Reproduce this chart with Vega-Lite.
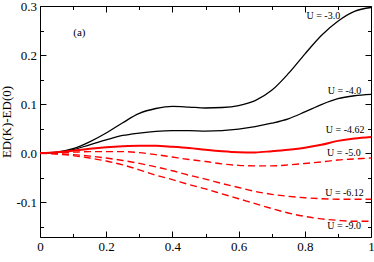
{
  "$schema": "https://vega.github.io/schema/vega-lite/v6.json",
  "width": 331,
  "height": 231,
  "autosize": {"type": "none"},
  "padding": {"left": 40, "top": 6, "right": 3, "bottom": 25},
  "background": "white",
  "config": {
    "view": {"stroke": null},
    "axis": {
      "domainColor": "#000000",
      "domainWidth": 1,
      "tickColor": "#000000",
      "tickWidth": 1,
      "grid": false,
      "labelFont": "Liberation Serif",
      "labelFontSize": 13,
      "labelColor": "#000000",
      "titleFont": "Liberation Serif",
      "titleFontSize": 13,
      "titleFontWeight": "normal",
      "titleColor": "#000000",
      "labelFlush": false,
      "labelOverlap": false
    }
  },
  "datasets": {
    "black": [
      {"k": 0, "v": 0, "U": "-3.0"}, {"k": 0.05, "v": 0.002, "U": "-3.0"}, {"k": 0.1, "v": 0.009, "U": "-3.0"},
      {"k": 0.15, "v": 0.023, "U": "-3.0"}, {"k": 0.2, "v": 0.041, "U": "-3.0"}, {"k": 0.25, "v": 0.062, "U": "-3.0"},
      {"k": 0.3, "v": 0.081, "U": "-3.0"}, {"k": 0.35, "v": 0.091, "U": "-3.0"}, {"k": 0.4, "v": 0.0955, "U": "-3.0"},
      {"k": 0.45, "v": 0.094, "U": "-3.0"}, {"k": 0.5, "v": 0.092, "U": "-3.0"}, {"k": 0.55, "v": 0.093, "U": "-3.0"},
      {"k": 0.6, "v": 0.097, "U": "-3.0"}, {"k": 0.65, "v": 0.107, "U": "-3.0"}, {"k": 0.7, "v": 0.128, "U": "-3.0"},
      {"k": 0.75, "v": 0.162, "U": "-3.0"}, {"k": 0.8, "v": 0.202, "U": "-3.0"}, {"k": 0.85, "v": 0.24, "U": "-3.0"},
      {"k": 0.9, "v": 0.269, "U": "-3.0"}, {"k": 0.95, "v": 0.289, "U": "-3.0"}, {"k": 1, "v": 0.297, "U": "-3.0"},
      {"k": 0, "v": 0, "U": "-4.0"}, {"k": 0.05, "v": 0.001, "U": "-4.0"}, {"k": 0.1, "v": 0.007, "U": "-4.0"},
      {"k": 0.15, "v": 0.017, "U": "-4.0"}, {"k": 0.2, "v": 0.027, "U": "-4.0"}, {"k": 0.25, "v": 0.036, "U": "-4.0"},
      {"k": 0.3, "v": 0.041, "U": "-4.0"}, {"k": 0.35, "v": 0.0445, "U": "-4.0"}, {"k": 0.4, "v": 0.046, "U": "-4.0"},
      {"k": 0.45, "v": 0.046, "U": "-4.0"}, {"k": 0.5, "v": 0.045, "U": "-4.0"}, {"k": 0.55, "v": 0.046, "U": "-4.0"},
      {"k": 0.6, "v": 0.049, "U": "-4.0"}, {"k": 0.65, "v": 0.054, "U": "-4.0"}, {"k": 0.7, "v": 0.061, "U": "-4.0"},
      {"k": 0.75, "v": 0.07, "U": "-4.0"}, {"k": 0.8, "v": 0.084, "U": "-4.0"}, {"k": 0.85, "v": 0.099, "U": "-4.0"},
      {"k": 0.9, "v": 0.111, "U": "-4.0"}, {"k": 0.95, "v": 0.117, "U": "-4.0"}, {"k": 1, "v": 0.12, "U": "-4.0"}
    ],
    "redsolid": [
      {"k": 0, "v": 0, "U": "-4.62"}, {"k": 0.05, "v": 0.002, "U": "-4.62"}, {"k": 0.1, "v": 0.005, "U": "-4.62"},
      {"k": 0.15, "v": 0.009, "U": "-4.62"}, {"k": 0.2, "v": 0.012, "U": "-4.62"}, {"k": 0.25, "v": 0.014, "U": "-4.62"},
      {"k": 0.3, "v": 0.015, "U": "-4.62"}, {"k": 0.35, "v": 0.015, "U": "-4.62"}, {"k": 0.4, "v": 0.013, "U": "-4.62"},
      {"k": 0.45, "v": 0.0105, "U": "-4.62"}, {"k": 0.5, "v": 0.007, "U": "-4.62"}, {"k": 0.55, "v": 0.004, "U": "-4.62"},
      {"k": 0.6, "v": 0.002, "U": "-4.62"}, {"k": 0.65, "v": 0.0015, "U": "-4.62"}, {"k": 0.7, "v": 0.004, "U": "-4.62"},
      {"k": 0.75, "v": 0.007, "U": "-4.62"}, {"k": 0.8, "v": 0.011, "U": "-4.62"}, {"k": 0.85, "v": 0.017, "U": "-4.62"},
      {"k": 0.9, "v": 0.025, "U": "-4.62"}, {"k": 0.95, "v": 0.03, "U": "-4.62"}, {"k": 1, "v": 0.033, "U": "-4.62"}
    ],
    "reddash": [
      {"k": 0, "v": 0, "U": "-5.0"}, {"k": 0.05, "v": 0.001, "U": "-5.0"}, {"k": 0.1, "v": 0.002, "U": "-5.0"},
      {"k": 0.15, "v": 0.003, "U": "-5.0"}, {"k": 0.2, "v": 0.003, "U": "-5.0"}, {"k": 0.25, "v": 0.003, "U": "-5.0"},
      {"k": 0.3, "v": 0.001, "U": "-5.0"}, {"k": 0.35, "v": -0.003, "U": "-5.0"}, {"k": 0.4, "v": -0.008, "U": "-5.0"},
      {"k": 0.45, "v": -0.013, "U": "-5.0"}, {"k": 0.5, "v": -0.017, "U": "-5.0"}, {"k": 0.55, "v": -0.022, "U": "-5.0"},
      {"k": 0.6, "v": -0.025, "U": "-5.0"}, {"k": 0.65, "v": -0.026, "U": "-5.0"}, {"k": 0.7, "v": -0.026, "U": "-5.0"},
      {"k": 0.75, "v": -0.024, "U": "-5.0"}, {"k": 0.8, "v": -0.021, "U": "-5.0"}, {"k": 0.85, "v": -0.018, "U": "-5.0"},
      {"k": 0.9, "v": -0.014, "U": "-5.0"}, {"k": 0.95, "v": -0.012, "U": "-5.0"}, {"k": 1, "v": -0.01, "U": "-5.0"},
      {"k": 0, "v": 0, "U": "-6.12"}, {"k": 0.05, "v": -0.001, "U": "-6.12"}, {"k": 0.1, "v": -0.003, "U": "-6.12"},
      {"k": 0.15, "v": -0.006, "U": "-6.12"}, {"k": 0.2, "v": -0.01, "U": "-6.12"}, {"k": 0.25, "v": -0.015, "U": "-6.12"},
      {"k": 0.3, "v": -0.021, "U": "-6.12"}, {"k": 0.35, "v": -0.028, "U": "-6.12"}, {"k": 0.4, "v": -0.036, "U": "-6.12"},
      {"k": 0.45, "v": -0.045, "U": "-6.12"}, {"k": 0.5, "v": -0.053, "U": "-6.12"}, {"k": 0.55, "v": -0.062, "U": "-6.12"},
      {"k": 0.6, "v": -0.07, "U": "-6.12"}, {"k": 0.65, "v": -0.078, "U": "-6.12"}, {"k": 0.7, "v": -0.084, "U": "-6.12"},
      {"k": 0.75, "v": -0.088, "U": "-6.12"}, {"k": 0.8, "v": -0.091, "U": "-6.12"}, {"k": 0.85, "v": -0.093, "U": "-6.12"},
      {"k": 0.9, "v": -0.094, "U": "-6.12"}, {"k": 0.95, "v": -0.094, "U": "-6.12"}, {"k": 1, "v": -0.094, "U": "-6.12"},
      {"k": 0, "v": 0, "U": "-9.0"}, {"k": 0.05, "v": -0.002, "U": "-9.0"}, {"k": 0.1, "v": -0.005, "U": "-9.0"},
      {"k": 0.15, "v": -0.01, "U": "-9.0"}, {"k": 0.2, "v": -0.016, "U": "-9.0"}, {"k": 0.25, "v": -0.024, "U": "-9.0"},
      {"k": 0.3, "v": -0.034, "U": "-9.0"}, {"k": 0.35, "v": -0.045, "U": "-9.0"}, {"k": 0.4, "v": -0.054, "U": "-9.0"},
      {"k": 0.45, "v": -0.064, "U": "-9.0"}, {"k": 0.5, "v": -0.073, "U": "-9.0"}, {"k": 0.55, "v": -0.083, "U": "-9.0"},
      {"k": 0.6, "v": -0.093, "U": "-9.0"}, {"k": 0.65, "v": -0.103, "U": "-9.0"}, {"k": 0.7, "v": -0.113, "U": "-9.0"},
      {"k": 0.75, "v": -0.122, "U": "-9.0"}, {"k": 0.8, "v": -0.129, "U": "-9.0"}, {"k": 0.85, "v": -0.134, "U": "-9.0"},
      {"k": 0.9, "v": -0.137, "U": "-9.0"}, {"k": 0.95, "v": -0.139, "U": "-9.0"}, {"k": 1, "v": -0.139, "U": "-9.0"}
    ],
    "labels": [
      {"k": 0.856, "v": 0.279, "text": "U = -3.0"},
      {"k": 0.92, "v": 0.1276, "text": "U = -4.0"},
      {"k": 0.922, "v": 0.047, "text": "U = -4.62"},
      {"k": 0.918, "v": -0.0007, "text": "U = -5.0"},
      {"k": 0.92, "v": -0.081, "text": "U = -6.12"},
      {"k": 0.919, "v": -0.149, "text": "U = -9.0"}
    ],
    "panel": [
      {"k": 0.119, "v": 0.245, "text": "(a)"}
    ]
  },
  "resolve": {"axis": {"x": "independent", "y": "independent"}},
  "layer": [
    {
      "data": {"name": "black"},
      "mark": {"type": "line", "color": "#000000", "strokeWidth": 1.3, "interpolate": "monotone", "clip": true},
      "encoding": {
        "x": {
          "field": "k", "type": "quantitative",
          "scale": {"domain": [0, 1], "nice": false, "zero": false},
          "axis": {
            "orient": "bottom",
            "title": null,
            "values": [0, 0.1, 0.2, 0.3, 0.4, 0.5, 0.6, 0.7, 0.8, 0.9, 1],
            "labelExpr": "round(datum.value*10)%2==0 ? format(datum.value, '~g') : ''",
            "tickSize": {"condition": {"test": "round(datum.value*10)%2==0", "value": -6}, "value": -3.5},
            "labelPadding": 9
          }
        },
        "y": {
          "field": "v", "type": "quantitative",
          "scale": {"domain": [-0.171, 0.3], "nice": false, "zero": false},
          "axis": {
            "orient": "left",
            "title": "ED(K)-ED(0)",
            "titlePadding": 2,
            "values": [-0.15, -0.1, -0.05, 0, 0.05, 0.1, 0.15, 0.2, 0.25, 0.3],
            "labelExpr": "abs(round(datum.value*20))%2==0 ? (datum.value < -0.0001 ? '-' : '') + format(abs(datum.value), '.1f') : ''",
            "tickSize": {"condition": {"test": "abs(round(datum.value*20))%2==0", "value": -6}, "value": -3.5},
            "labelPadding": 9.5
          }
        },
        "detail": {"field": "U"}
      }
    },
    {
      "data": {"name": "redsolid"},
      "mark": {"type": "line", "color": "#ff0000", "strokeWidth": 2, "interpolate": "monotone", "clip": true},
      "encoding": {
        "x": {
          "field": "k", "type": "quantitative",
          "axis": {
            "orient": "top",
            "title": null,
            "labels": false,
            "values": [0, 0.1, 0.2, 0.3, 0.4, 0.5, 0.6, 0.7, 0.8, 0.9, 1],
            "tickSize": {"condition": {"test": "round(datum.value*10)%2==0", "value": -6}, "value": -3.5}
          }
        },
        "y": {
          "field": "v", "type": "quantitative",
          "axis": {
            "orient": "right",
            "title": null,
            "labels": false,
            "values": [-0.15, -0.1, -0.05, 0, 0.05, 0.1, 0.15, 0.2, 0.25, 0.3],
            "tickSize": {"condition": {"test": "abs(round(datum.value*20))%2==0", "value": -6}, "value": -3.5}
          }
        }
      }
    },
    {
      "data": {"name": "reddash"},
      "mark": {"type": "line", "color": "#ff0000", "strokeWidth": 1.4, "strokeDash": [7, 4], "interpolate": "monotone", "clip": true},
      "encoding": {
        "x": {"field": "k", "type": "quantitative", "axis": null},
        "y": {"field": "v", "type": "quantitative", "axis": null},
        "detail": {"field": "U"}
      }
    },
    {
      "data": {"name": "labels"},
      "mark": {"type": "text", "font": "Liberation Serif", "fontSize": 10, "color": "#000000", "align": "center", "baseline": "middle"},
      "encoding": {
        "x": {"field": "k", "type": "quantitative", "axis": null},
        "y": {"field": "v", "type": "quantitative", "axis": null},
        "text": {"field": "text"}
      }
    },
    {
      "data": {"name": "panel"},
      "mark": {"type": "text", "font": "Liberation Serif", "fontSize": 11, "color": "#000000", "align": "center", "baseline": "middle"},
      "encoding": {
        "x": {"field": "k", "type": "quantitative", "axis": null},
        "y": {"field": "v", "type": "quantitative", "axis": null},
        "text": {"field": "text"}
      }
    }
  ]
}
